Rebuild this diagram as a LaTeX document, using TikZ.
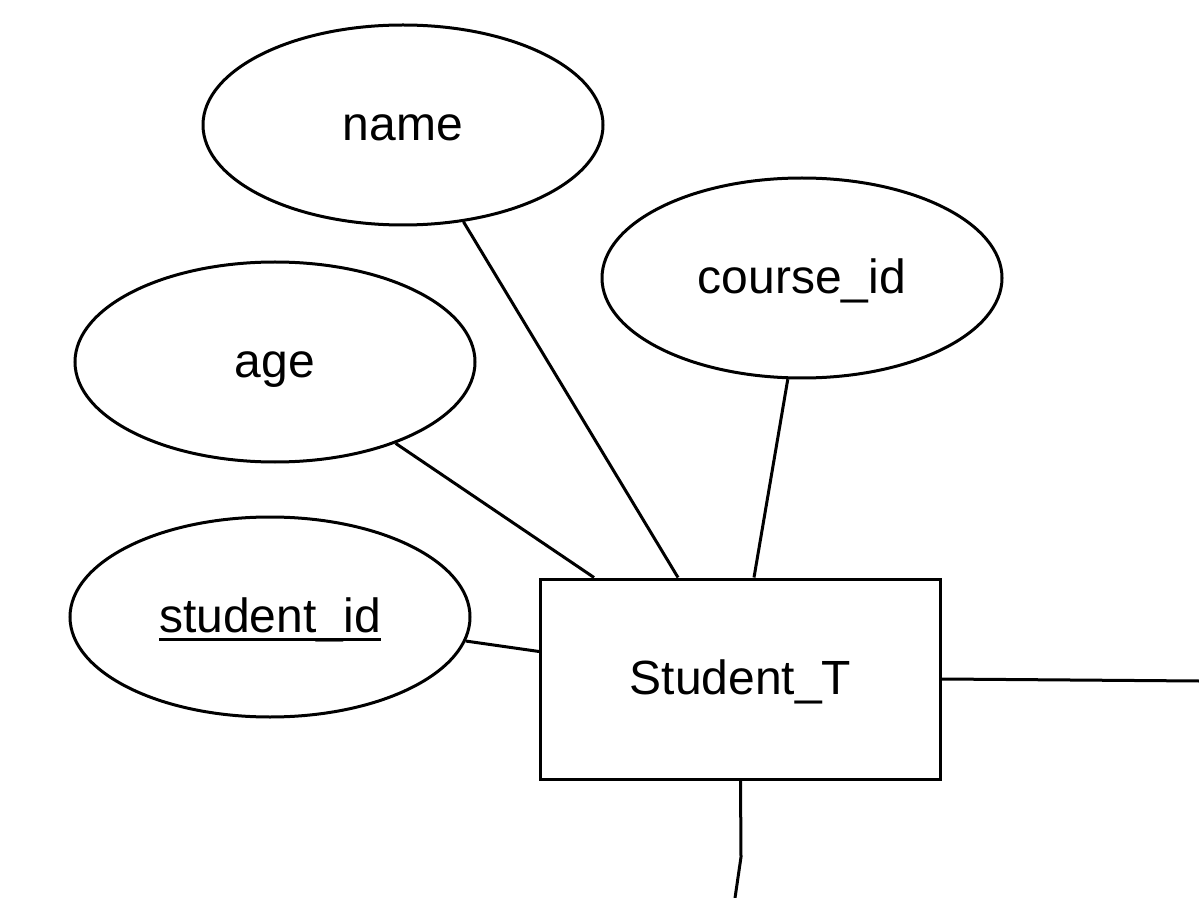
\documentclass[tikz,border=0pt]{standalone}
\usepackage{fontspec}
\setmainfont{Liberation Sans}
\usetikzlibrary{shapes.geometric,calc}
\newcommand\myul[1]{\setbox0\hbox{#1}\rlap{\smash{\rule[-6.5pt]{\wd0}{2.2pt}}}\box0}
\begin{document}
\begin{tikzpicture}[x=0.75pt,y=-0.75pt,
  lbl/.style={font=\fontsize{36}{40}\selectfont,text height=29.5pt,text depth=6pt},
  attr/.style={draw,ellipse,line width=2.25pt,minimum width=300pt,minimum height=150pt,inner sep=0pt,lbl},
  ent/.style={draw,rectangle,line width=2.25pt,minimum width=300pt,minimum height=150pt,inner sep=0pt,lbl},
  conn/.style={line width=2.25pt}]
\useasboundingbox (0,0) rectangle (1199,898);
\node[attr] (n) at (403,125) {name};
\node[attr] (c) at (802,278) {course\_id};
\node[attr] (a) at (275,362) {age};
\node[attr] (s) at (270,617) {\myul{student\_id}};
\node[ent] (st) at (740.5,679) {Student\_T};
\coordinate (r) at (1199,681);
\coordinate (b1) at (741,857);
\coordinate (b2) at (735,898);
\draw[conn] (n.-58.7) -- ($(st.north west)+(139,0)$);
\draw[conn] (c.-98.5) -- ($(st.north west)+(215,0)$);
\draw[conn] (a.-34) -- ($(st.north west)+(55,0)$);
\draw[conn] (s.-7.6) -- ($(st.north west)+(0,74)$);
\draw[conn] (st.east) -- (r);
\draw[conn] (st.south) -- (b1) -- (b2);
\end{tikzpicture}
\end{document}
